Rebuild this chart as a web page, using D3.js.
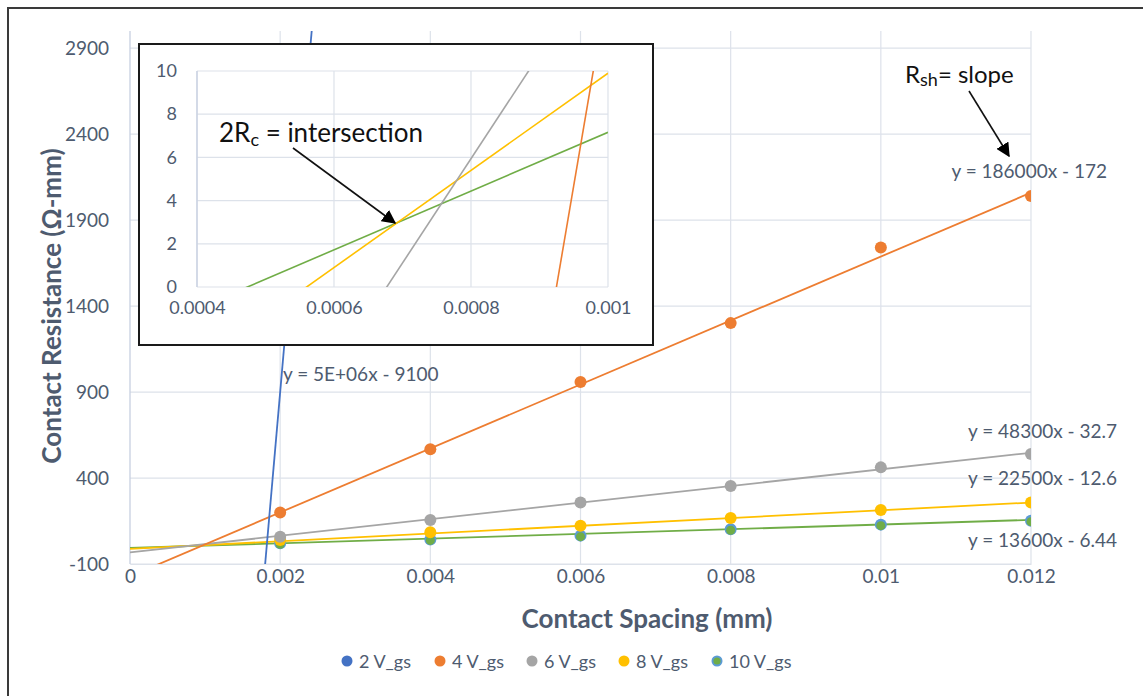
<!DOCTYPE html>
<html>
<head>
<meta charset="utf-8">
<script src="https://cdn.jsdelivr.net/npm/d3@7/dist/d3.min.js"></script>
<style>
  html, body { margin: 0; padding: 0; background: #fff; }
  svg { display: block; font-family: Lato, "Open Sans", sans-serif; }
</style>
</head>
<body>
<svg id="chart" width="1143" height="696"></svg>
<script>
// Contact spacing values (mm)
const spacing = [0.002, 0.004, 0.006, 0.008, 0.01, 0.012];

// Series names
const seriesNames = ["2 V_gs", "4 V_gs", "6 V_gs", "8 V_gs", "10 V_gs"];

// Measured contact resistance (Ω-mm) per series; 2 V_gs points lie above the axis range
const r2 = [null, null, null, null, null, null];
const r4 = [199, 567, 958, 1301, 1741, 2040];
const r6 = [59, 156, 258, 353, 462, 540];
const r8 = [40, 84, 123, 167, 214, 258];
const r10 = [20, 43, 65, 102, 129, 152];

// Linear trendlines (slope, intercept) and their printed equations
const slopes = [5e6, 186000, 48300, 22500, 13600];
const intercepts = [-9100, -172, -32.7, -12.6, -6.44];
const equations = ["y = 5E+06x - 9100", "y = 186000x - 172", "y = 48300x - 32.7", "y = 22500x - 12.6", "y = 13600x - 6.44"];

// Axis ticks
const yTicks = [-100, 400, 900, 1400, 1900, 2400, 2900];
const yTickLabels = ["-100", "400", "900", "1400", "1900", "2400", "2900"];
const xTicks = [0, 0.002, 0.004, 0.006, 0.008, 0.01, 0.012];
const xTickLabels = ["0", "0.002", "0.004", "0.006", "0.008", "0.01", "0.012"];
const insetXTicks = [0.0004, 0.0006, 0.0008, 0.001];
const insetXTickLabels = ["0.0004", "0.0006", "0.0008", "0.001"];
const insetYTicks = [0, 2, 4, 6, 8, 10];

// Styling
const markerColors = ["#4472C4", "#ED7D31", "#A5A5A5", "#FFC000", "#5B9BD5"];
const lineColors = ["#4472C4", "#ED7D31", "#A5A5A5", "#FFC000", "#70AD47"];
const textColor = "#4e5b6f";
const gridColor = "#dde2ea";

const values = [r2, r4, r6, r8, r10];

const svg = d3.select("#chart");
const defs = svg.append("defs");

// outer frame
svg.append("rect").attr("x", 8).attr("y", 8).attr("width", 1150).attr("height", 700)
  .attr("fill", "#fff").attr("stroke", "#3a3a3a").attr("stroke-width", 2);

const x = d3.scaleLinear().domain([0, 0.012]).range([130, 1031]);
const y = d3.scaleLinear().domain([-100, 3000]).range([564, 31]);

defs.append("clipPath").attr("id", "mainClip")
  .append("rect").attr("x", 130).attr("y", 31).attr("width", 901).attr("height", 533);

// grid
const grid = svg.append("g");
grid.selectAll(".hg").data(yTicks).enter().append("line")
  .attr("x1", 130).attr("x2", 1031).attr("y1", d => y(d)).attr("y2", d => y(d))
  .attr("stroke", gridColor).attr("stroke-width", 1.2);
grid.selectAll(".vg").data(xTicks.slice(1)).enter().append("line")
  .attr("x1", d => x(d)).attr("x2", d => x(d)).attr("y1", 31).attr("y2", 564)
  .attr("stroke", gridColor).attr("stroke-width", 1.2);
// y axis line
svg.append("line").attr("x1", 130).attr("x2", 130).attr("y1", 31).attr("y2", 564)
  .attr("stroke", "#c7d0e0").attr("stroke-width", 1.3);

// axis tick labels
const yAxis = d3.axisLeft(y).tickValues(yTicks).tickSize(0).tickPadding(21)
  .tickFormat((d, i) => yTickLabels[i]);
const gy = svg.append("g").attr("transform", "translate(130,0)").call(yAxis);
gy.select(".domain").remove();
gy.selectAll("text").attr("fill", textColor).style("font-size", "19px").style("font-family", "Lato, sans-serif");

const xAxis = d3.axisBottom(x).tickValues(xTicks).tickSize(0).tickPadding(5)
  .tickFormat((d, i) => xTickLabels[i]);
const gx = svg.append("g").attr("transform", "translate(0,564)").call(xAxis);
gx.select(".domain").attr("stroke", gridColor).attr("stroke-width", 1.2);
gx.selectAll("text").attr("fill", textColor).style("font-size", "19px").style("font-family", "Lato, sans-serif");

// axis titles
svg.append("text").attr("transform", "translate(61,306) rotate(-90)")
  .attr("text-anchor", "middle").attr("fill", textColor)
  .style("font-size", "26px").style("font-weight", "bold").text("Contact Resistance (Ω-mm)");
svg.append("text").attr("x", 647).attr("y", 628).attr("text-anchor", "middle").attr("fill", textColor)
  .style("font-size", "26px").style("font-weight", "bold").text("Contact Spacing (mm)");

// trendlines (main)
const plot = svg.append("g").attr("clip-path", "url(#mainClip)");
const trend = (s, xs, xScale, yScale) => d3.line()
  .x(d => xScale(d)).y(d => yScale(slopes[s] * d + intercepts[s]))(xs);
[4, 3, 2, 1, 0].forEach(s => {
  plot.append("path").attr("d", trend(s, [0, 0.012], x, y))
    .attr("fill", "none").attr("stroke", lineColors[s]).attr("stroke-width", 1.8);
});

// markers
[4, 3, 2, 1, 0].forEach(s => {
  const pts = spacing.map((d, i) => ({ x: d, v: values[s][i] })).filter(p => p.v !== null);
  plot.selectAll(".m" + s).data(pts).enter().append("circle")
    .attr("cx", d => x(d.x)).attr("cy", d => y(d.v)).attr("r", 6).attr("fill", markerColors[s]);
  if (s === 4) {
    plot.selectAll(".mg").data(pts).enter().append("circle")
      .attr("cx", d => x(d.x)).attr("cy", d => y(d.v) + 1).attr("r", 4.5).attr("fill", "#70AD47");
  }
});

// equation labels
const eqPos = [
  { x: 283, y: 381, anchor: "start" },
  { x: 1107, y: 178, anchor: "end" },
  { x: 1117, y: 438, anchor: "end" },
  { x: 1117, y: 485, anchor: "end" },
  { x: 1117, y: 547, anchor: "end" }
];
equations.forEach((t, i) => {
  svg.append("text").attr("x", eqPos[i].x).attr("y", eqPos[i].y)
    .attr("text-anchor", eqPos[i].anchor).attr("fill", textColor)
    .style("font-size", "19px").text(t);
});

// arrow head
defs.append("marker").attr("id", "arrow")
  .attr("viewBox", "0 0 10 10").attr("refX", 9).attr("refY", 5)
  .attr("markerWidth", 14).attr("markerHeight", 14).attr("markerUnits", "userSpaceOnUse")
  .attr("orient", "auto")
  .append("path").attr("d", "M0,0 L10,5 L0,10 z").attr("fill", "#000");

// Rsh annotation
const rsh = svg.append("text").attr("x", 905).attr("y", 83).attr("fill", "#111").style("font-size", "24px");
rsh.append("tspan").text("R");
rsh.append("tspan").attr("dy", 3).style("font-size", "18px").text("sh");
rsh.append("tspan").attr("dy", -3).text("= slope");
svg.append("line").attr("x1", 969).attr("y1", 91).attr("x2", 1009).attr("y2", 156)
  .attr("stroke", "#111").attr("stroke-width", 1.6).attr("marker-end", "url(#arrow)");

// ---- inset ----
svg.append("rect").attr("x", 139).attr("y", 44).attr("width", 514).attr("height", 301)
  .attr("fill", "#fff").attr("stroke", "#1a1a1a").attr("stroke-width", 2);

const xi = d3.scaleLinear().domain([0.0004, 0.001]).range([197, 608]);
const yi = d3.scaleLinear().domain([0, 10]).range([287, 71]);

defs.append("clipPath").attr("id", "insetClip")
  .append("rect").attr("x", 197).attr("y", 71).attr("width", 411).attr("height", 216);

const ig = svg.append("g");
ig.selectAll(".ihg").data(insetYTicks).enter().append("line")
  .attr("x1", 197).attr("x2", 608).attr("y1", d => yi(d)).attr("y2", d => yi(d))
  .attr("stroke", gridColor).attr("stroke-width", 1.2);
ig.selectAll(".ivg").data(insetXTicks).enter().append("line")
  .attr("x1", d => xi(d)).attr("x2", d => xi(d)).attr("y1", 71).attr("y2", 287)
  .attr("stroke", gridColor).attr("stroke-width", 1.2);
ig.append("line").attr("x1", 197).attr("x2", 197).attr("y1", 71).attr("y2", 287)
  .attr("stroke", "#c7d0e0").attr("stroke-width", 1.3);

const giy = svg.append("g").attr("transform", "translate(197,0)")
  .call(d3.axisLeft(yi).tickValues(insetYTicks).tickSize(0).tickPadding(20));
giy.select(".domain").remove();
giy.selectAll("text").attr("fill", textColor).style("font-size", "18px").style("font-family", "Lato, sans-serif");

const gix = svg.append("g").attr("transform", "translate(0,287)")
  .call(d3.axisBottom(xi).tickValues(insetXTicks).tickSize(0).tickPadding(14)
    .tickFormat((d, i) => insetXTickLabels[i]));
gix.select(".domain").remove();
gix.selectAll("text").attr("fill", textColor).style("font-size", "18px").style("font-family", "Lato, sans-serif");

const iplot = svg.append("g").attr("clip-path", "url(#insetClip)");
[4, 3, 2, 1].forEach(s => {
  iplot.append("path").attr("d", trend(s, [0.0004, 0.001], xi, yi))
    .attr("fill", "none").attr("stroke", lineColors[s]).attr("stroke-width", 1.6);
});

const rc = svg.append("text").attr("x", 219).attr("y", 142).attr("fill", "#111").style("font-size", "26px");
rc.append("tspan").text("2R");
rc.append("tspan").attr("dy", 4).style("font-size", "18px").text("c");
rc.append("tspan").attr("dy", -4).text(" = intersection");
svg.append("line").attr("x1", 293).attr("y1", 148).attr("x2", 395).attr("y2", 223)
  .attr("stroke", "#111").attr("stroke-width", 1.6).attr("marker-end", "url(#arrow)");

// ---- legend ----
const legX = [347, 440, 532, 624, 717];
seriesNames.forEach((n, i) => {
  const g = svg.append("g").attr("transform", `translate(${legX[i]},661)`);
  g.append("circle").attr("r", 5.5).attr("fill", markerColors[i]);
  if (i === 4) g.append("circle").attr("r", 3.6).attr("fill", "#70AD47");
  g.append("text").attr("x", 12).attr("y", 6.5).attr("fill", textColor)
    .style("font-size", "18px").text(n);
});
</script>
</body>
</html>
